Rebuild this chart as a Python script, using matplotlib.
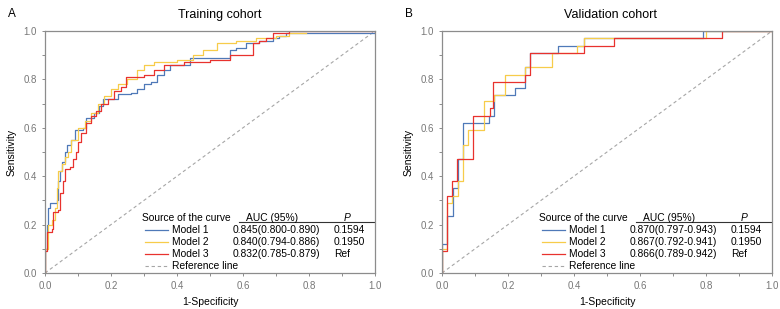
import matplotlib.pyplot as plt
from matplotlib.ticker import MultipleLocator

plt.rcParams['font.family'] = ['Liberation Sans', 'DejaVu Sans']

models = ['Model 1', 'Model 2', 'Model 3']
colors = ['#4f79b8', '#f7cc4a', '#e8322e']

# training cohort ROC corner points (steps-post)
train_fpr = [
    [0, 0, 0.005, 0.01, 0.015, 0.035, 0.04, 0.045, 0.05, 0.06, 0.068, 0.08, 0.09, 0.115, 0.125, 0.15,
     0.165, 0.175, 0.22, 0.26, 0.28, 0.3, 0.32, 0.34, 0.36, 0.38, 0.44, 0.56, 0.58, 0.61, 0.65, 0.69,
     0.71, 0.73, 1.0],
    [0, 0, 0.01, 0.02, 0.03, 0.035, 0.04, 0.05, 0.06, 0.07, 0.08, 0.1, 0.12, 0.14, 0.16, 0.18, 0.2,
     0.22, 0.25, 0.28, 0.3, 0.33, 0.4, 0.45, 0.48, 0.52, 0.58, 0.64, 0.7, 0.74, 0.79],
    [0, 0, 0.005, 0.02, 0.025, 0.04, 0.045, 0.055, 0.06, 0.075, 0.085, 0.095, 0.1, 0.11, 0.125, 0.14,
     0.155, 0.17, 0.19, 0.21, 0.23, 0.245, 0.3, 0.33, 0.36, 0.42, 0.5, 0.56, 0.63, 0.65, 0.67, 0.69,
     0.74, 1.0],
]
train_tpr = [
    [0, 0.1, 0.2, 0.27, 0.29, 0.3, 0.38, 0.42, 0.46, 0.5, 0.53, 0.55, 0.59, 0.6, 0.64, 0.66, 0.69,
     0.72, 0.74, 0.745, 0.76, 0.78, 0.79, 0.82, 0.84, 0.86, 0.89, 0.92, 0.93, 0.95, 0.96, 0.97,
     0.98, 0.99, 1.0],
    [0, 0.1, 0.2, 0.22, 0.27, 0.35, 0.42, 0.45, 0.48, 0.5, 0.55, 0.6, 0.63, 0.66, 0.7, 0.73, 0.76,
     0.78, 0.8, 0.84, 0.86, 0.87, 0.88, 0.9, 0.92, 0.95, 0.96, 0.97, 0.98, 0.99, 0.99],
    [0, 0.09, 0.17, 0.18, 0.25, 0.26, 0.33, 0.38, 0.43, 0.44, 0.47, 0.5, 0.54, 0.58, 0.62, 0.65,
     0.67, 0.7, 0.72, 0.75, 0.77, 0.81, 0.82, 0.84, 0.86, 0.87, 0.88, 0.9, 0.95, 0.96, 0.97, 0.99,
     1.0, 1.0],
]

# validation cohort ROC corner points (steps-post)
valid_fpr = [
    [0, 0, 0.015, 0.033, 0.048, 0.064, 0.142, 0.157, 0.22, 0.25, 0.267, 0.35, 0.43, 0.79, 1.0],
    [0, 0, 0.015, 0.03, 0.048, 0.064, 0.08, 0.127, 0.157, 0.19, 0.25, 0.333, 0.41, 0.43, 0.8, 1.0],
    [0, 0, 0.015, 0.03, 0.045, 0.094, 0.145, 0.155, 0.25, 0.267, 0.43, 0.52, 0.85, 1.0],
]
valid_tpr = [
    [0, 0.12, 0.235, 0.35, 0.47, 0.62, 0.65, 0.735, 0.765, 0.85, 0.91, 0.94, 0.97, 1.0, 1.0],
    [0, 0.1, 0.29, 0.32, 0.38, 0.53, 0.59, 0.71, 0.735, 0.82, 0.85, 0.91, 0.94, 0.97, 1.0, 1.0],
    [0, 0.09, 0.32, 0.38, 0.47, 0.65, 0.68, 0.79, 0.82, 0.91, 0.94, 0.97, 1.0, 1.0],
]

train_auc = ['0.845(0.800-0.890)', '0.840(0.794-0.886)', '0.832(0.785-0.879)']
valid_auc = ['0.870(0.797-0.943)', '0.867(0.792-0.941)', '0.866(0.789-0.942)']
p_values = ['0.1594', '0.1950', 'Ref']

panels = [
    ('A', 'Training cohort', train_fpr, train_tpr, train_auc),
    ('B', 'Validation cohort', valid_fpr, valid_tpr, valid_auc),
]

fig = plt.figure(figsize=(7.8, 3.09), dpi=100)
lefts = [0.0577, 0.5667]
title_x = [0.53, 0.51]
grey = '#8c8c8c'

for left, tx, (letter, title, fprs, tprs, aucs) in zip(lefts, title_x, panels):
    ax = fig.add_axes([left, 0.1165, 0.423, 0.7832])
    ax.plot([0, 1], [0, 1], ls=(0, (3, 2.5)), color='#a6a6a6', lw=0.8)
    for fpr, tpr, c in zip(fprs, tprs, colors):
        ax.plot(fpr, tpr, drawstyle='steps-post', color=c, lw=0.9)
    ax.set_xlim(0, 1)
    ax.set_ylim(0, 1)
    ax.xaxis.set_major_locator(MultipleLocator(0.2))
    ax.yaxis.set_major_locator(MultipleLocator(0.2))
    ax.xaxis.set_minor_locator(MultipleLocator(0.1))
    ax.yaxis.set_minor_locator(MultipleLocator(0.1))
    ax.tick_params(which='both', direction='out', color=grey, labelcolor='#777777',
                   labelsize=7, length=2.5, width=0.7)
    for s in ax.spines.values():
        s.set_color(grey)
        s.set_linewidth(0.9)
    ax.set_xlabel('1-Specificity', fontsize=7.5, labelpad=4)
    ax.set_ylabel('Sensitivity', fontsize=7.5, labelpad=5)
    ax.set_title(title, fontsize=9, pad=9, x=tx)
    fig.text(left - 0.048, 0.955, letter, fontsize=8.5, va='center')

    # legend table
    fs = 7.4
    ax.text(0.294, 0.227, 'Source of the curve', fontsize=fs, va='center')
    ax.text(0.688, 0.227, 'AUC (95%)', fontsize=fs, va='center', ha='center')
    ax.text(0.915, 0.227, 'P', fontsize=fs, va='center', ha='center', style='italic')
    ax.plot([0.588, 1.0], [0.211, 0.211], color='#333333', lw=0.8)
    rows_y = [0.178, 0.128, 0.0785]
    for y, m, c, a, p in zip(rows_y, models, colors, aucs, p_values):
        ax.plot([0.303, 0.373], [y, y], color=c, lw=0.9)
        ax.text(0.385, y, m, fontsize=fs, va='center')
        ax.text(0.57, y, a, fontsize=fs, va='center')
        ax.text(0.876, y, p, fontsize=fs, va='center')
    ax.plot([0.303, 0.373], [0.029, 0.029], ls=(0, (3, 2.5)), color='#a6a6a6', lw=0.8)
    ax.text(0.385, 0.029, 'Reference line', fontsize=fs, va='center')

fig.savefig('out.png', dpi=100)
